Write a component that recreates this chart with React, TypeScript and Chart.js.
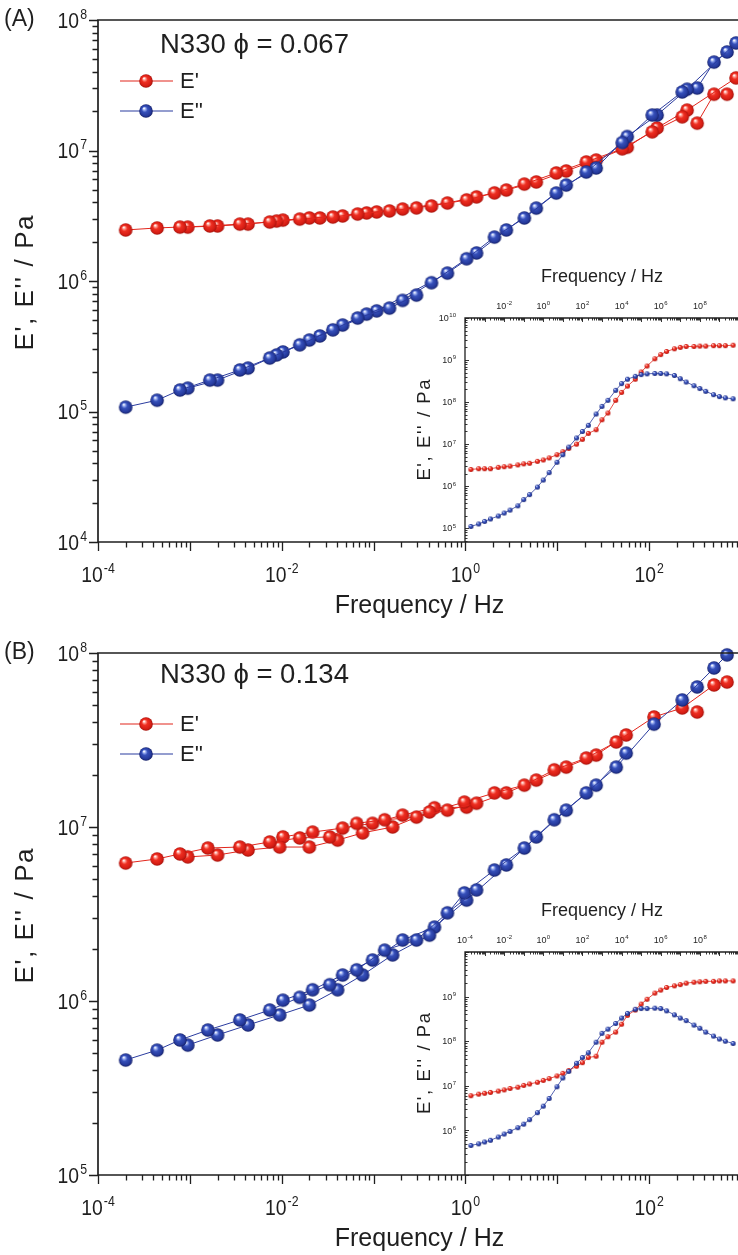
import React, { useEffect, useRef } from "react";
import { Chart, registerables } from "chart.js";

Chart.register(...registerables);

// ---------------- Panel (A) main: N330 phi = 0.067 ----------------
const freqA = [2.0e-4, 4.4e-4, 7.8e-4, 9.5e-4, 1.65e-3, 2.0e-3, 3.5e-3, 4.3e-3, 7.4e-3, 8.8e-3,
  1.03e-2, 1.57e-2, 2.0e-2, 2.6e-2, 3.6e-2, 4.6e-2, 6.7e-2, 8.4e-2, 0.108, 0.149,
  0.207, 0.293, 0.427, 0.637, 1.03, 1.32, 2.07, 2.79, 4.38, 5.91,
  9.75, 12.5, 20.7, 26.5, 50.9, 57.7, 108, 122, 229, 259,
  333, 509, 705, 883];
const storageA = [2.46e6, 2.55e6, 2.59e6, 2.59e6, 2.64e6, 2.64e6, 2.73e6, 2.73e6, 2.83e6, 2.88e6,
  2.93e6, 2.98e6, 3.04e6, 3.04e6, 3.09e6, 3.15e6, 3.26e6, 3.32e6, 3.38e6, 3.44e6,
  3.56e6, 3.63e6, 3.76e6, 3.96e6, 4.18e6, 4.41e6, 4.73e6, 4.98e6, 5.53e6, 5.74e6,
  6.73e6, 6.97e6, 8.17e6, 8.45e6, 1.03e7, 1.06e7, 1.39e7, 1.49e7, 1.81e7, 2.04e7,
  1.62e7, 2.70e7, 2.70e7, 3.6e7];
const lossA = [1.08e5, 1.22e5, 1.46e5, 1.51e5, 1.74e5, 1.74e5, 2.08e5, 2.15e5, 2.57e5, 2.71e5,
  2.86e5, 3.24e5, 3.53e5, 3.79e5, 4.22e5, 4.60e5, 5.20e5, 5.58e5, 5.9e5, 6.2e5,
  7.1e5, 7.8e5, 9.7e5, 1.15e6, 1.48e6, 1.64e6, 2.17e6, 2.46e6, 3.04e6, 3.62e6,
  4.72e6, 5.44e6, 6.84e6, 7.35e6, 1.15e7, 1.28e7, 1.87e7, 1.87e7, 2.81e7, 2.95e7,
  3.01e7, 4.76e7, 5.69e7, 6.67e7];
const curveA = [0, 0, 0, 1, 0, 1, 0, 1, 0, 1,
  2, 0, 1, 2, 0, 1, 0, 1, 2, 0,
  1, 0, 1, 2, 1, 2, 1, 2, 1, 2,
  1, 2, 1, 2, 1, 2, 1, 2, 1, 2,
  3, 3, 3, 2];

// ---------------- Panel (B) main: N330 phi = 0.134 ----------------
const freqB = [2.0e-4, 4.4e-4, 7.8e-4, 9.5e-4, 1.57e-3, 2.0e-3, 3.5e-3, 4.3e-3, 7.4e-3, 9.5e-3,
  1.03e-2, 1.57e-2, 2.0e-2, 2.17e-2, 3.33e-2, 4.06e-2, 4.6e-2, 6.54e-2, 7.59e-2, 9.75e-2,
  0.132, 0.161, 0.207, 0.293, 0.406, 0.46, 0.637, 0.975, 1.03, 1.32,
  2.07, 2.79, 4.38, 5.91, 9.27, 12.5, 20.7, 26.5, 43.8, 56.2,
  113, 229, 333, 509, 705];
const storageB = [6.21e6, 6.55e6, 7.0e6, 6.73e6, 7.57e6, 6.9e6, 7.67e6, 7.38e6, 8.2e6, 7.67e6,
  8.77e6, 8.65e6, 7.67e6, 9.35e6, 8.77e6, 8.41e6, 9.86e6, 1.05e7, 9.25e6, 1.05e7,
  1.10e7, 1.0e7, 1.17e7, 1.14e7, 1.22e7, 1.29e7, 1.25e7, 1.39e7, 1.30e7, 1.37e7,
  1.57e7, 1.57e7, 1.74e7, 1.86e7, 2.13e7, 2.21e7, 2.49e7, 2.59e7, 3.08e7, 3.38e7,
  4.29e7, 4.83e7, 4.58e7, 6.55e7, 6.81e7];
const lossB = [4.58e5, 5.22e5, 5.97e5, 5.58e5, 6.81e5, 6.38e5, 7.78e5, 7.28e5, 8.87e5, 8.32e5,
  1.01e6, 1.05e6, 9.48e5, 1.16e6, 1.24e6, 1.16e6, 1.41e6, 1.51e6, 1.41e6, 1.72e6,
  1.96e6, 1.84e6, 2.24e6, 2.24e6, 2.39e6, 2.66e6, 3.21e6, 4.18e6, 3.80e6, 4.35e6,
  5.66e6, 6.05e6, 7.57e6, 8.77e6, 1.10e7, 1.25e7, 1.57e7, 1.74e7, 2.21e7, 2.66e7,
  3.9e7, 5.37e7, 6.38e7, 8.20e7, 9.75e7];
const curveB = [0, 0, 0, 1, 0, 1, 0, 1, 0, 1,
  2, 0, 1, 2, 0, 1, 2, 0, 1, 2,
  0, 1, 2, 0, 1, 2, 0, 1, 2, 0,
  1, 2, 1, 2, 1, 2, 1, 2, 1, 2,
  1, 1, 3, 1, 1];

// ---------------- Insets (master curves) ----------------
const insetFreq = [2e-4, 5e-4, 1e-3, 2e-3, 5e-3, 1e-2, 2e-2, 5e-2, 0.1, 0.2,
  0.5, 1, 2, 5, 10, 20, 50, 100, 200, 500,
  1e3, 2e3, 5e3, 1e4, 2e4, 5e4, 1e5, 2e5, 5e5, 1e6,
  2e6, 5e6, 1e7, 2e7, 5e7, 1e8, 2e8, 5e8, 1e9, 2e9, 5e9];
const insetStorageA = [2.5e6, 2.6e6, 2.6e6, 2.6e6, 2.8e6, 2.9e6, 3.0e6, 3.2e6, 3.4e6, 3.5e6,
  3.9e6, 4.2e6, 4.7e6, 5.6e6, 6.6e6, 7.9e6, 1.0e7, 1.3e7, 1.8e7, 2.2e7,
  3.8e7, 5.5e7, 1.1e8, 1.7e8, 2.4e8, 3.5e8, 5.2e8, 7.2e8, 1.07e9, 1.35e9,
  1.6e9, 1.85e9, 2.0e9, 2.1e9, 2.1e9, 2.15e9, 2.15e9, 2.2e9, 2.2e9, 2.2e9, 2.25e9];
const insetLossA = [1.1e5, 1.26e5, 1.45e5, 1.66e5, 1.95e5, 2.3e5, 2.7e5, 3.4e5, 4.8e5, 6.3e5,
  9.5e5, 1.4e6, 2.1e6, 3.7e6, 5.6e6, 8.5e6, 1.4e7, 2.0e7, 2.8e7, 5.2e7,
  7.9e7, 1.1e8, 1.9e8, 2.75e8, 3.5e8, 4.1e8, 4.5e8, 4.7e8, 4.8e8, 4.8e8,
  4.7e8, 4.3e8, 3.6e8, 3.0e8, 2.45e8, 2.1e8, 1.8e8, 1.5e8, 1.35e8, 1.26e8, 1.2e8];
const insetStorageB = [6.0e6, 6.5e6, 6.8e6, 7.1e6, 7.6e6, 8.1e6, 8.7e6, 9.3e6, 1.02e7, 1.1e7,
  1.2e7, 1.32e7, 1.45e7, 1.66e7, 1.9e7, 2.2e7, 2.75e7, 3.3e7, 4.3e7, 4.6e7,
  9.5e7, 1.26e8, 1.6e8, 2.4e8, 3.8e8, 5.0e8, 6.8e8, 8.7e8, 1.2e9, 1.4e9,
  1.6e9, 1.74e9, 1.86e9, 2.0e9, 2.1e9, 2.15e9, 2.2e9, 2.2e9, 2.25e9, 2.25e9, 2.25e9];
const insetLossB = [4.6e5, 5.0e5, 5.5e5, 6.0e5, 7.1e5, 8.3e5, 9.5e5, 1.15e6, 1.38e6, 1.74e6,
  2.5e6, 3.5e6, 5.2e6, 9.5e6, 1.5e7, 2.1e7, 3.2e7, 4.3e7, 5.5e7, 9.5e7,
  1.5e8, 1.86e8, 2.5e8, 3.3e8, 4.2e8, 5.2e8, 5.4e8, 5.4e8, 5.5e8, 5.4e8,
  4.8e8, 3.9e8, 3.3e8, 2.9e8, 2.3e8, 1.95e8, 1.6e8, 1.3e8, 1.12e8, 1.0e8, 8.9e7];

// ---------------- Texts and tick labels ----------------
const noteA = "N330 \u03D5 = 0.067";
const noteB = "N330 \u03D5 = 0.134";
const xTitle = "Frequency / Hz";
const yTitle = "E', E'' / Pa";
const legendLabels = ["E'", "E''"];
const mainXExps = [-4, -2, 0, 2];
const mainYExpsA = [4, 5, 6, 7, 8];
const mainYExpsB = [5, 6, 7, 8];
const insetXExpsA = [-2, 0, 2, 4, 6, 8];
const insetXExpsB = [-4, -2, 0, 2, 4, 6, 8];
const insetYExpsA = [5, 6, 7, 8, 9, 10];
const insetYExpsB = [6, 7, 8, 9];

const FONT = '"Liberation Sans", Arial, Helvetica, sans-serif';
const INK = "#1f1f1f";
const RED = "#e2261c";
const BLUE = "#2b3c9f";
const RED_STOPS: [number, string][] = [[0, "#ffffff"], [0.18, "#ff9488"], [0.4, "#ee2f22"], [0.8, "#d61d14"], [1, "#a3130c"]];
const BLUE_STOPS: [number, string][] = [[0, "#ffffff"], [0.18, "#93a8ee"], [0.4, "#3650ba"], [0.8, "#25399b"], [1, "#141f66"]];

function sphere(r: number, stops: [number, string][]) {
  const c = document.createElement("canvas");
  const s = Math.ceil(r * 2) + 2;
  c.width = s;
  c.height = s;
  const g = c.getContext("2d")!;
  const cx = s / 2, cy = s / 2;
  const grad = g.createRadialGradient(cx - r * 0.3, cy - r * 0.4, r * 0.05, cx, cy, r);
  stops.forEach(([o, col]) => grad.addColorStop(o, col));
  g.fillStyle = grad;
  g.beginPath();
  g.arc(cx, cy, r, 0, Math.PI * 2);
  g.fill();
  return c;
}

function logTicks(min: number, max: number) {
  const out: { v: number; major: boolean }[] = [];
  for (let d = Math.floor(Math.log10(min)); d <= Math.ceil(Math.log10(max)); d++) {
    for (let m = 1; m <= 9; m++) {
      const v = m * Math.pow(10, d);
      if (v >= min * 0.999 && v <= max * 1.001) out.push({ v, major: m === 1 });
    }
  }
  return out;
}

function drawPow(ctx: CanvasRenderingContext2D, x: number, y: number, exp: number, base: number, sup: number, align: string, sx: number) {
  const es = String(exp);
  ctx.font = `${base}px ${FONT}`;
  const w1 = ctx.measureText("10").width * sx;
  ctx.font = `${sup}px ${FONT}`;
  const w2 = ctx.measureText(es).width * sx;
  const gap = base * 0.05;
  const total = w1 + gap + w2;
  const start = align === "center" ? x - total / 2 : align === "right" ? x - total : x;
  const baseline = y + base * 0.716 / 2;
  ctx.textAlign = "left";
  ctx.textBaseline = "alphabetic";
  ctx.save();
  ctx.translate(start, baseline);
  ctx.scale(sx, 1);
  ctx.font = `${base}px ${FONT}`;
  ctx.fillText("10", 0, 0);
  ctx.restore();
  ctx.save();
  ctx.translate(start + w1 + gap, baseline - base * 0.42);
  ctx.scale(sx, 1);
  ctx.font = `${sup}px ${FONT}`;
  ctx.fillText(es, 0, 0);
  ctx.restore();
}

function drawVertical(ctx: any, text: string, x: number, y: number, size: number, spacing: number) {
  ctx.save();
  ctx.translate(x, y);
  ctx.rotate(-Math.PI / 2);
  ctx.font = `${size}px ${FONT}`;
  ctx.textBaseline = "middle";
  ctx.textAlign = "left";
  // manual letter spacing so the title length matches the original
  const chars = Array.from(text);
  const widths = chars.map((ch) => ctx.measureText(ch).width);
  const total = widths.reduce((s, w) => s + w, 0) + spacing * (chars.length - 1);
  let cx = -total / 2;
  chars.forEach((ch, i) => {
    ctx.fillText(ch, cx, 0);
    cx += widths[i] + spacing;
  });
  ctx.restore();
}

function groupCurves(freq: number[], vals: number[], curve: number[]) {
  const ids = Array.from(new Set(curve)).sort((a, b) => a - b);
  return ids.map((id) => {
    const pts: { x: number; y: number }[] = [];
    freq.forEach((f, i) => {
      if (curve[i] === id) pts.push({ x: f, y: vals[i] });
    });
    return pts;
  });
}

type MainOpts = {
  freq: number[]; storage: number[]; loss: number[]; curve: number[];
  yMin: number; yMax: number; yExps: number[]; padding: any;
  letter: string; note: string; noteDy: number; legendDy: number;
  redImg: HTMLCanvasElement; blueImg: HTMLCanvasElement;
};

function mainConfig(o: MainOpts): any {
  const blueSets = groupCurves(o.freq, o.loss, o.curve).map((pts) => ({
    data: pts, borderColor: BLUE, borderWidth: 1, pointStyle: o.blueImg, pointRadius: 7,
    showLine: true, tension: 0, fill: false, clip: false,
  }));
  const redSets = groupCurves(o.freq, o.storage, o.curve).map((pts) => ({
    data: pts, borderColor: RED, borderWidth: 1, pointStyle: o.redImg, pointRadius: 7,
    showLine: true, tension: 0, fill: false, clip: false,
  }));
  const decor = {
    id: "mainDecor",
    afterDraw(chart: any) {
      const { ctx, chartArea: a } = chart;
      const xs = chart.scales.x, ys = chart.scales.y;
      ctx.save();
      ctx.strokeStyle = INK;
      ctx.lineWidth = 1.7;
      ctx.beginPath();
      ctx.moveTo(a.left, a.top);
      ctx.lineTo(a.right + 2, a.top);
      ctx.moveTo(a.left, a.top - 0.8);
      ctx.lineTo(a.left, a.bottom);
      ctx.lineTo(a.right + 2, a.bottom);
      ctx.stroke();
      ctx.lineWidth = 1.3;
      ctx.beginPath();
      logTicks(xs.min, xs.max).forEach((t) => {
        const px = Math.round(xs.getPixelForValue(t.v)) + 0.5;
        ctx.moveTo(px, a.bottom);
        ctx.lineTo(px, a.bottom + (t.major ? 9 : 5.5));
      });
      logTicks(ys.min, ys.max).forEach((t) => {
        const py = Math.round(ys.getPixelForValue(t.v)) + 0.5;
        ctx.moveTo(a.left, py);
        ctx.lineTo(a.left - (t.major ? 9 : 5.5), py);
      });
      ctx.stroke();
      ctx.fillStyle = INK;
      mainXExps.forEach((e) => drawPow(ctx, xs.getPixelForValue(Math.pow(10, e)), a.bottom + 32, e, 22, 14, "center", 0.88));
      o.yExps.forEach((e) => drawPow(ctx, a.left - 11, ys.getPixelForValue(Math.pow(10, e)), e, 22, 14, "right", 0.88));
      ctx.textAlign = "center";
      ctx.textBaseline = "middle";
      ctx.font = `25px ${FONT}`;
      ctx.fillText(xTitle, (a.left + a.right) / 2, a.bottom + 64);
      drawVertical(ctx, yTitle, 26, (a.top + a.bottom) / 2 + 2, 26, 1.6);
      ctx.textAlign = "left";
      ctx.textBaseline = "middle";
      ctx.font = `23px ${FONT}`;
      ctx.fillText(o.letter, 4, a.top);
      ctx.font = `27.5px ${FONT}`;
      ctx.fillText(o.note, 160, a.top + o.noteDy);
      const cols = [RED, BLUE];
      const imgs = [o.redImg, o.blueImg];
      legendLabels.forEach((lab, i) => {
        const ly = a.top + o.legendDy + i * 30;
        ctx.strokeStyle = cols[i];
        ctx.lineWidth = 1.2;
        ctx.beginPath();
        ctx.moveTo(120, ly);
        ctx.lineTo(173, ly);
        ctx.stroke();
        const im = imgs[i];
        ctx.drawImage(im, 146 - im.width / 2, ly - im.height / 2);
        ctx.fillStyle = INK;
        ctx.font = `22px ${FONT}`;
        ctx.textBaseline = "middle";
        ctx.fillText(lab, 180, ly + 1);
      });
      ctx.restore();
    },
  };
  return {
    type: "line",
    data: { datasets: [...blueSets, ...redSets] },
    options: {
      responsive: false,
      animation: false,
      events: [],
      layout: { padding: o.padding },
      plugins: { legend: { display: false }, tooltip: { enabled: false } },
      scales: {
        x: { type: "logarithmic", min: 1e-4, max: 1e3, display: false },
        y: { type: "logarithmic", min: o.yMin, max: o.yMax, display: false },
      },
    },
    plugins: [decor],
  };
}

type InsetOpts = {
  storage: number[]; loss: number[]; yMin: number; xExps: number[]; yExps: number[];
  padding: any; redImg: HTMLCanvasElement; blueImg: HTMLCanvasElement;
};

function insetConfig(o: InsetOpts): any {
  const mk = (vals: number[], col: string, img: HTMLCanvasElement) => ({
    data: insetFreq.map((f, i) => ({ x: f, y: vals[i] })),
    borderColor: col, borderWidth: 0.8, pointStyle: img, pointRadius: 2.5,
    showLine: true, tension: 0, fill: false, clip: false,
  });
  const decor = {
    id: "insetDecor",
    afterDraw(chart: any) {
      const { ctx, chartArea: a } = chart;
      const xs = chart.scales.x, ys = chart.scales.y;
      ctx.save();
      ctx.strokeStyle = INK;
      ctx.lineWidth = 1.3;
      ctx.beginPath();
      ctx.moveTo(a.left, a.bottom);
      ctx.lineTo(a.left, a.top);
      ctx.lineTo(a.right + 2, a.top);
      ctx.stroke();
      ctx.lineWidth = 0.9;
      ctx.beginPath();
      logTicks(xs.min, xs.max).forEach((t) => {
        const px = Math.round(xs.getPixelForValue(t.v)) + 0.5;
        ctx.moveTo(px, a.top);
        ctx.lineTo(px, a.top + (t.major ? 4 : 2.5));
      });
      logTicks(ys.min, ys.max).forEach((t) => {
        const py = Math.round(ys.getPixelForValue(t.v)) + 0.5;
        ctx.moveTo(a.left, py);
        ctx.lineTo(a.left + (t.major ? 4 : 2.5), py);
      });
      ctx.stroke();
      ctx.fillStyle = INK;
      o.xExps.forEach((e) => drawPow(ctx, xs.getPixelForValue(Math.pow(10, e)), a.top - 12, e, 9, 6, "center", 1));
      o.yExps.forEach((e) => drawPow(ctx, a.left - 9, ys.getPixelForValue(Math.pow(10, e)), e, 9, 6, "right", 1));
      ctx.textAlign = "center";
      ctx.textBaseline = "middle";
      ctx.font = `18px ${FONT}`;
      ctx.fillText(xTitle, (a.left + a.right) / 2, a.top - 41);
      drawVertical(ctx, yTitle, a.left - 40, (a.top + a.bottom) / 2, 18.5, 1.6);
      ctx.restore();
    },
  };
  return {
    type: "line",
    data: {
      datasets: [mk(o.loss, BLUE, o.blueImg), mk(o.storage, RED, o.redImg)],
    },
    options: {
      responsive: false,
      animation: false,
      events: [],
      layout: { padding: o.padding },
      plugins: { legend: { display: false }, tooltip: { enabled: false } },
      scales: {
        x: { type: "logarithmic", min: 1e-4, max: 1e10, display: false },
        y: { type: "logarithmic", min: o.yMin, max: 1e10, display: false },
      },
    },
    plugins: [decor],
  };
}

export default function App() {
  const refA = useRef<HTMLCanvasElement>(null);
  const refB = useRef<HTMLCanvasElement>(null);
  const refIA = useRef<HTMLCanvasElement>(null);
  const refIB = useRef<HTMLCanvasElement>(null);

  useEffect(() => {
    const redBig = sphere(6.8, RED_STOPS);
    const blueBig = sphere(6.8, BLUE_STOPS);
    const redSmall = sphere(2.5, RED_STOPS);
    const blueSmall = sphere(2.5, BLUE_STOPS);
    const charts = [
      new Chart(refA.current!, mainConfig({
        freq: freqA, storage: storageA, loss: lossA, curve: curveA,
        yMin: 1e4, yMax: 1e8, yExps: mainYExpsA,
        padding: { left: 98, top: 20, right: 19, bottom: 88 },
        letter: "(A)", note: noteA, noteDy: 25, legendDy: 61,
        redImg: redBig, blueImg: blueBig,
      })),
      new Chart(refB.current!, mainConfig({
        freq: freqB, storage: storageB, loss: lossB, curve: curveB,
        yMin: 1e5, yMax: 1e8, yExps: mainYExpsB,
        padding: { left: 98, top: 23, right: 19, bottom: 80 },
        letter: "(B)", note: noteB, noteDy: 22, legendDy: 71,
        redImg: redBig, blueImg: blueBig,
      })),
      new Chart(refIA.current!, insetConfig({
        storage: insetStorageA, loss: insetLossA, yMin: 4.7e4,
        xExps: insetXExpsA, yExps: insetYExpsA,
        padding: { left: 105, top: 68, right: 21, bottom: 18 },
        redImg: redSmall, blueImg: blueSmall,
      })),
      new Chart(refIB.current!, insetConfig({
        storage: insetStorageB, loss: insetLossB, yMin: 1e5,
        xExps: insetXExpsB, yExps: insetYExpsB,
        padding: { left: 105, top: 72, right: 21, bottom: 15 },
        redImg: redSmall, blueImg: blueSmall,
      })),
    ];
    return () => charts.forEach((c) => c.destroy());
  }, []);

  return (
    <div style={{ position: "absolute", left: 0, top: 0, width: 738, height: 1255, overflow: "hidden", background: "#ffffff" }}>
      <canvas ref={refA} width={760} height={630} style={{ position: "absolute", left: 0, top: 0 }} />
      <canvas ref={refB} width={760} height={625} style={{ position: "absolute", left: 0, top: 630 }} />
      <canvas ref={refIA} width={400} height={310} style={{ position: "absolute", left: 360, top: 250 }} />
      <canvas ref={refIB} width={400} height={310} style={{ position: "absolute", left: 360, top: 880 }} />
    </div>
  );
}
